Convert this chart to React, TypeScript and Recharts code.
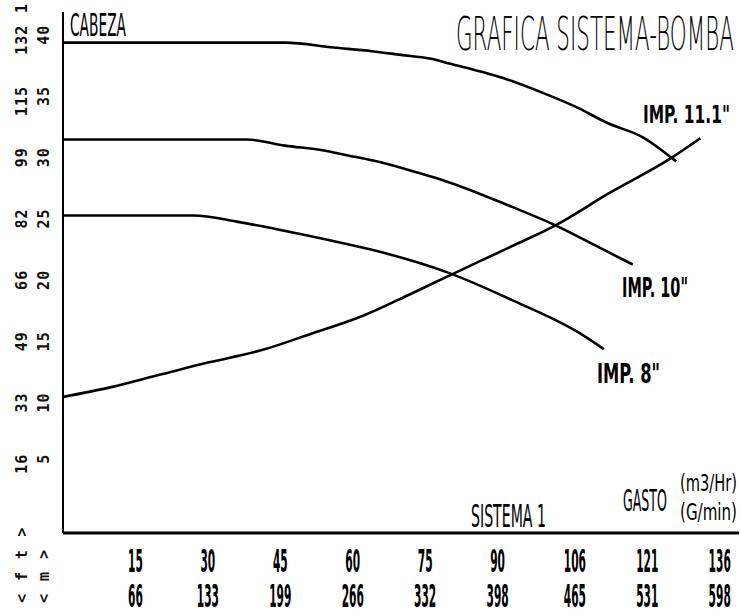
import { Line, LineChart, XAxis, YAxis } from 'recharts';

// gasto (m3/Hr) y cabeza (m)
const xTicksM3 = [15, 30, 45, 60, 75, 90, 106, 121, 136];
const xTicksGpm = [66, 133, 199, 266, 332, 398, 465, 531, 598];
const yTicksM = [5, 10, 15, 20, 25, 30, 35, 40];
const yTicksFt = [16, 33, 49, 66, 82, 99, 115, 132];

const imp111Q = [0, 46, 56, 64, 70, 76, 80, 92, 100, 106, 113, 120, 127];
const imp111H = [40, 40, 39.6, 39.3, 39.0, 38.7, 38.3, 37.0, 35.8, 34.8, 33.4, 32.3, 30.3];

const imp10Q = [0, 38, 46, 54, 59, 64, 70, 76, 80, 93, 102, 111, 118];
const imp10H = [32.1, 32.1, 31.6, 31.2, 30.8, 30.4, 29.8, 29.1, 28.6, 26.6, 25.1, 23.3, 21.9];

const imp8Q = [0, 27, 36, 44, 55, 64, 74, 80, 93, 107, 112];
const imp8H = [25.9, 25.9, 25.4, 24.8, 23.9, 23.1, 22.0, 21.2, 19.0, 16.3, 15.0];

const sistemaQ = [0, 10, 20, 30, 41, 51, 62, 72, 80, 93, 102, 113, 126, 132];
const sistemaH = [11.1, 11.9, 12.9, 13.9, 14.9, 16.2, 17.7, 19.5, 21.0, 23.4, 25.1, 27.7, 30.6, 32.2];

const toRows = (q: number[], h: number[]) => q.map((v, i) => ({ q: v, h: h[i] }));

const WIDTH = 741;
const HEIGHT = 615;
const PLOT_BOTTOM = 533;
const INK = '#000';
const FAMILY = "'DejaVu Sans', sans-serif";

// the printer font is tall and narrow: squeeze DejaVu horizontally to a given width
const measureCtx = document.createElement('canvas').getContext('2d');
function squeeze(text: string, size: number, weight: string | number, width: number) {
	if (!measureCtx) return 1;
	measureCtx.font = `${weight} ${size}px ${FAMILY}`;
	const natural = measureCtx.measureText(text).width;
	return natural > 0 ? width / natural : 1;
}

function Narrow({ x, y, size, width, weight = 'normal', anchor = 'start', children }: any) {
	const text = String(children);
	const sx = squeeze(text, size, weight, width);
	return (
		<text
			transform={`translate(${x},${y}) scale(${sx.toFixed(3)},1)`}
			textAnchor={anchor}
			fontFamily={FAMILY}
			fontSize={size}
			fontWeight={weight}
			fill={INK}
		>
			{text}
		</text>
	);
}

function XTick({ x, payload }: any) {
	const i = xTicksM3.indexOf(payload.value);
	const top = String(payload.value);
	const bottom = String(xTicksGpm[i]);
	return (
		<g>
			<Narrow x={x} y={PLOT_BOTTOM + 39} size={32} weight="bold" width={top.length * 7.4} anchor="middle">
				{top}
			</Narrow>
			<Narrow x={x} y={PLOT_BOTTOM + 74} size={32} weight="bold" width={bottom.length * 7.4} anchor="middle">
				{bottom}
			</Narrow>
		</g>
	);
}

function YTick({ y, payload }: any) {
	const i = yTicksM.indexOf(payload.value);
	return (
		<g fill="#111" fontFamily="'DejaVu Sans Mono', monospace" fontWeight="bold" fontSize={15} letterSpacing={1}>
			<text transform={`translate(27,${y - 18}) rotate(-90)`} textAnchor="end">
				{yTicksFt[i]}
			</text>
			<text transform={`translate(49,${y - 18}) rotate(-90)`} textAnchor="end">
				{payload.value}
			</text>
		</g>
	);
}

function Notes() {
	const mono = { fontFamily: "'DejaVu Sans Mono', monospace", fontWeight: 'bold', fontSize: 15, fill: '#111' };
	return (
		<svg
			width={WIDTH}
			height={HEIGHT}
			style={{ position: 'absolute', left: 0, top: 0, pointerEvents: 'none' }}
		>
			<Narrow x={456} y={50} size={46} weight={300} width={278}>
				GRAFICA SISTEMA-BOMBA
			</Narrow>
			<Narrow x={70} y={36} size={32} width={56}>
				CABEZA
			</Narrow>
			<Narrow x={643} y={123} size={25} weight="bold" width={87}>
				IMP. 11.1"
			</Narrow>
			<Narrow x={622} y={297} size={26} weight="bold" width={66}>
				IMP. 10"
			</Narrow>
			<Narrow x={597} y={383} size={26} weight="bold" width={63}>
				IMP. 8"
			</Narrow>
			<Narrow x={471} y={527} size={32} width={75}>
				SISTEMA 1
			</Narrow>
			<Narrow x={623} y={511} size={31} width={44}>
				GASTO
			</Narrow>
			<Narrow x={680} y={491} size={23} width={57}>
				(m3/Hr)
			</Narrow>
			<Narrow x={680} y={520} size={23} width={57}>
				(G/min)
			</Narrow>
			<text {...mono} transform="translate(27,4) rotate(-90)" textAnchor="end">
				1
			</text>
			<text {...mono} letterSpacing={2} transform="translate(27,603) rotate(-90)" textAnchor="start">
				{'< f t >'}
			</text>
			<text {...mono} letterSpacing={2} transform="translate(49,603) rotate(-90)" textAnchor="start">
				{'< m >'}
			</text>
		</svg>
	);
}

export default function App() {
	const series = [
		{ name: 'IMP. 11.1"', rows: toRows(imp111Q, imp111H) },
		{ name: 'IMP. 10"', rows: toRows(imp10Q, imp10H) },
		{ name: 'IMP. 8"', rows: toRows(imp8Q, imp8H) },
		{ name: 'SISTEMA 1', rows: toRows(sistemaQ, sistemaH) },
	];

	return (
		<div style={{ position: 'absolute', left: 0, top: 0, width: WIDTH, height: HEIGHT, background: '#fff' }}>
			<LineChart width={WIDTH} height={HEIGHT} margin={{ top: 12, right: 2, left: 0, bottom: 0 }}>
				<XAxis
					dataKey="q"
					type="number"
					domain={[0, 140]}
					ticks={xTicksM3}
					tick={<XTick />}
					tickLine={false}
					axisLine={{ stroke: INK, strokeWidth: 3 }}
					height={HEIGHT - PLOT_BOTTOM}
					allowDataOverflow
				/>
				<YAxis
					type="number"
					domain={[0, 42.5]}
					ticks={yTicksM}
					tick={<YTick />}
					tickLine={false}
					axisLine={{ stroke: INK, strokeWidth: 2 }}
					width={63}
					allowDataOverflow
				/>
				{series.map((s) => (
					<Line
						key={s.name}
						name={s.name}
						data={s.rows}
						dataKey="h"
						type="monotone"
						stroke={INK}
						strokeWidth={2.6}
						dot={false}
						isAnimationActive={false}
					/>
				))}
			</LineChart>
			<Notes />
		</div>
	);
}
